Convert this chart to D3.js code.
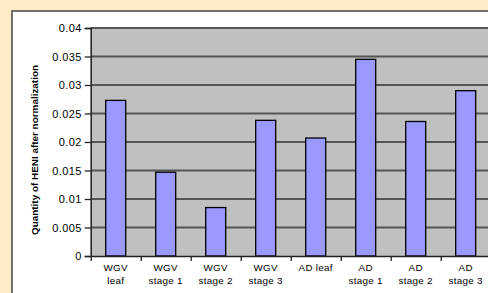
<!DOCTYPE html>
<html><head><meta charset="utf-8">
<script src="https://cdn.jsdelivr.net/npm/d3@7"></script>
<style>body{margin:0;padding:0;background:#FEEBC8;} svg{display:block;}</style>
</head><body>
<script>
const categories = [["WGV","leaf"],["WGV","stage 1"],["WGV","stage 2"],["WGV","stage 3"],["AD leaf"],["AD","stage 1"],["AD","stage 2"],["AD","stage 3"]];
const values = [0.0273, 0.0147, 0.0085, 0.0238, 0.0207, 0.0345, 0.0236, 0.0290];
const yTicks = [0, 0.005, 0.01, 0.015, 0.02, 0.025, 0.03, 0.035, 0.04];
const yTickLabels = ["0","0.005","0.01","0.015","0.02","0.025","0.03","0.035","0.04"];
const yLabel = "Quantity of HENI after normalization";

(function() {
const W = 488, H = 293;
const svg = d3.select("body").append("svg").attr("width", W).attr("height", H);
svg.append("rect").attr("width", W).attr("height", H).attr("fill", "#FEEBC8");
// white panel
svg.append("rect").attr("x", 12).attr("y", 11).attr("width", 500).attr("height", 300)
  .attr("fill", "#fff").attr("stroke", "#444").attr("stroke-width", 1.5);

const pLeft = 90.7, pRight = 490.7, pTop = 28, pBottom = 256;
const keys = categories.map((c, i) => i);
const x = d3.scaleBand().domain(keys).range([pLeft, pRight]).paddingInner(0.6).paddingOuter(0.3);
const y = d3.scaleLinear().domain([0, 0.04]).range([pBottom, pTop]);

svg.append("rect").attr("x", pLeft).attr("y", pTop).attr("width", pRight - pLeft).attr("height", pBottom - pTop).attr("fill", "#C0C0C0");

// gridlines
svg.append("g").selectAll("line").data(yTicks.slice(1)).join("line")
  .attr("x1", pLeft).attr("x2", pRight).attr("y1", d => y(d)).attr("y2", d => y(d))
  .attr("stroke", "#555").attr("stroke-width", 2);

// bars
svg.append("g").selectAll("rect").data(values).join("rect")
  .attr("x", (d, i) => x(i)).attr("width", x.bandwidth())
  .attr("y", d => y(d)).attr("height", d => pBottom - y(d))
  .attr("fill", "#9999FF").attr("stroke", "#000").attr("stroke-width", 1.3);

// y axis
const yAxis = d3.axisLeft(y).tickValues(yTicks).tickFormat((d, i) => yTickLabels[i]).tickSizeOuter(0).tickSize(6).tickPadding(3);
const gy = svg.append("g").attr("transform", `translate(${pLeft},0)`).call(yAxis);
gy.select(".domain").attr("stroke", "#222").attr("stroke-width", 1.5);
gy.selectAll(".tick line").attr("stroke", "#222").attr("stroke-width", 1.3);
gy.selectAll("text").attr("font-family", "Liberation Sans, Arial, sans-serif").attr("font-size", 11).attr("fill", "#000").attr("letter-spacing", 0.4);

// x axis line and ticks between categories
const xb = d3.scaleLinear().domain([0, categories.length]).range([pLeft, pRight]);
const gx = svg.append("g").attr("transform", `translate(0,${pBottom})`)
  .call(d3.axisBottom(xb).tickValues(d3.range(0, categories.length + 1)).tickSize(5).tickSizeOuter(0).tickFormat(""));
gx.select(".domain").attr("stroke", "#222").attr("stroke-width", 1.5);
gx.selectAll(".tick line").attr("stroke", "#222").attr("stroke-width", 1.3);

// category labels
const lab = svg.append("g").selectAll("text").data(categories).join("text")
  .attr("x", (d, i) => x(i) + x.bandwidth() / 2).attr("y", 271)
  .attr("text-anchor", "middle")
  .attr("font-family", "Liberation Sans, Arial, sans-serif").attr("font-size", 9.8).attr("letter-spacing", 0.3).attr("fill", "#000");
lab.selectAll("tspan").data(d => d).join("tspan")
  .attr("x", function() { return this.parentNode.getAttribute("x"); })
  .attr("dy", (d, i) => i === 0 ? 0 : 12.5)
  .text(d => d);

// y label
svg.append("text").attr("transform", `translate(38,150) rotate(-90)`)
  .attr("text-anchor", "middle").attr("font-family", "Liberation Sans, Arial, sans-serif")
  .attr("font-size", 9.5).attr("font-weight", "bold").attr("fill", "#000")
  .attr("textLength", 170).attr("lengthAdjust", "spacingAndGlyphs")
  .text(yLabel);
})();
</script>
</body></html>
